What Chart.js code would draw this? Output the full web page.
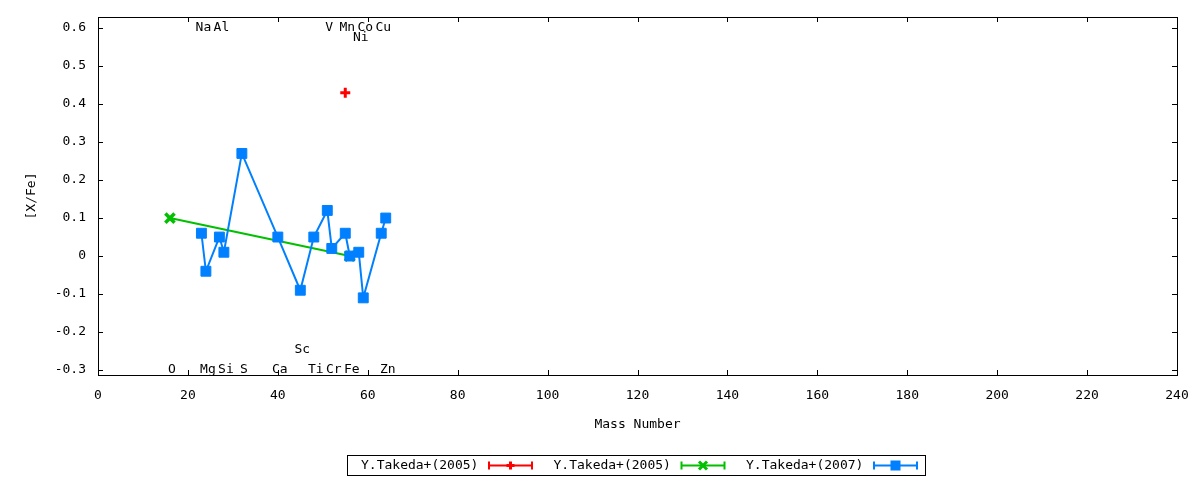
<!DOCTYPE html>
<html>
<head>
<meta charset="utf-8">
<script src="https://cdn.jsdelivr.net/npm/chart.js@4.4.1/dist/chart.umd.min.js"></script>
<style>
  html, body { margin: 0; padding: 0; background: #fff; }
  #wrap { width: 1200px; height: 480px; }
</style>
</head>
<body>
<div id="wrap"><canvas id="grafico"></canvas></div>
<script>
// --- Datos ---
const massRed = [55];
const xfeRed = [0.43];

const massGreen = [16, 56];
const xfeGreen = [0.10, 0.00];

const massBlue = [23, 24, 27, 28, 32, 40, 45, 48, 51, 52, 55, 56, 58, 59, 63, 64];
const xfeBlue = [0.06, -0.04, 0.05, 0.01, 0.27, 0.05, -0.09, 0.05, 0.12, 0.02, 0.06, 0.00, 0.01, -0.11, 0.06, 0.10];

const seriesNames = ['Y.Takeda+(2005)', 'Y.Takeda+(2005)', 'Y.Takeda+(2007)'];
const seriesColors = ['#ff0000', '#00c000', '#0080ff'];

const xTicks = [0, 20, 40, 60, 80, 100, 120, 140, 160, 180, 200, 220, 240];
const yTicks = [-0.3, -0.2, -0.1, 0, 0.1, 0.2, 0.3, 0.4, 0.5, 0.6];
const yTickLabels = ['-0.3', '-0.2', '-0.1', '0', '0.1', '0.2', '0.3', '0.4', '0.5', '0.6'];

// Etiquetas de elementos (nombre, número másico, posición [X/Fe])
const elemNames = ['Na', 'Al', 'V', 'Mn', 'Co', 'Cu', 'Ni', 'O', 'Mg', 'Si', 'S', 'Ca', 'Sc', 'Ti', 'Cr', 'Fe', 'Zn'];
const elemMass = [23, 27, 51, 55, 59, 63, 58, 16, 24, 28, 32, 40, 45, 48, 52, 56, 64];
const elemY = [0.6, 0.6, 0.6, 0.6, 0.6, 0.6, 0.575, -0.3, -0.3, -0.3, -0.3, -0.3, -0.245, -0.3, -0.3, -0.3, -0.3];

const FONT = '"DejaVu Sans Mono", monospace';
const toPoints = (xs, ys) => xs.map((x, i) => ({ x: x, y: ys[i] }));

// quita el margen extra que Chart.js reserva para las etiquetas
function sinRelleno(scale) {
    scale.paddingTop = 0;
    scale.paddingBottom = 0;
    scale.paddingLeft = 0;
    scale.paddingRight = 0;
}

// Caja, marcas de ejes, etiquetas, títulos y leyenda estilo gnuplot
const decoraciones = {
    id: 'decoraciones',
    afterDatasetsDraw(chart) {
        const ctx = chart.ctx;
        const a = chart.chartArea;
        const xs = chart.scales.x;
        const ys = chart.scales.y;
        ctx.save();

        // marcas hacia adentro
        ctx.strokeStyle = '#000';
        ctx.lineWidth = 1;
        ctx.beginPath();
        xTicks.forEach(v => {
            const px = Math.round(xs.getPixelForValue(v)) + 0.5;
            ctx.moveTo(px, a.bottom); ctx.lineTo(px, a.bottom - 5);
            ctx.moveTo(px, a.top); ctx.lineTo(px, a.top + 5);
        });
        yTicks.forEach(v => {
            const py = Math.round(ys.getPixelForValue(v)) + 0.5;
            ctx.moveTo(a.left, py); ctx.lineTo(a.left + 5, py);
            ctx.moveTo(a.right, py); ctx.lineTo(a.right - 5, py);
        });
        ctx.stroke();

        // caja del gráfico
        ctx.strokeRect(Math.round(a.left) + 0.5, Math.round(a.top) + 0.5,
            Math.round(a.right - a.left), Math.round(a.bottom - a.top));

        // nombres de elementos
        ctx.fillStyle = '#000';
        ctx.font = '13px ' + FONT;
        ctx.textAlign = 'center';
        ctx.textBaseline = 'middle';
        elemNames.forEach((n, i) => {
            ctx.fillText(n, xs.getPixelForValue(elemMass[i]) + 2, ys.getPixelForValue(elemY[i]));
        });

        // títulos de ejes
        ctx.fillText('Mass Number', (a.left + a.right) / 2, 425);
        ctx.save();
        ctx.translate(32, (a.top + a.bottom) / 2);
        ctx.rotate(-Math.PI / 2);
        ctx.fillText('[X/Fe]', 0, 0);
        ctx.restore();

        // leyenda
        const boxL = 347, boxT = 455, boxW = 578, boxH = 20;
        ctx.strokeRect(boxL + 0.5, boxT + 0.5, boxW, boxH);
        const ly = boxT + boxH / 2 + 0.5;
        ctx.textAlign = 'left';
        seriesNames.forEach((name, i) => {
            const x0 = boxL + 14 + i * 192.5;
            ctx.fillStyle = '#000';
            ctx.fillText(name, x0, ly);
            const s0 = x0 + 128, s1 = s0 + 43, sm = (s0 + s1) / 2;
            const col = seriesColors[i];
            ctx.strokeStyle = col;
            ctx.fillStyle = col;
            ctx.lineWidth = 2;
            ctx.beginPath();
            ctx.moveTo(s0, ly); ctx.lineTo(s1, ly);
            ctx.moveTo(s0, ly - 4); ctx.lineTo(s0, ly + 4);
            ctx.moveTo(s1, ly - 4); ctx.lineTo(s1, ly + 4);
            ctx.stroke();
            ctx.lineWidth = 3;
            ctx.beginPath();
            if (i === 0) {
                ctx.moveTo(sm - 4, ly); ctx.lineTo(sm + 4, ly);
                ctx.moveTo(sm, ly - 4); ctx.lineTo(sm, ly + 4);
                ctx.stroke();
            } else if (i === 1) {
                ctx.moveTo(sm - 4, ly - 4); ctx.lineTo(sm + 4, ly + 4);
                ctx.moveTo(sm + 4, ly - 4); ctx.lineTo(sm - 4, ly + 4);
                ctx.stroke();
            } else {
                ctx.fillRect(sm - 5, ly - 5, 10, 10);
            }
        });
        ctx.restore();
    }
};

new Chart(document.getElementById('grafico'), {
    type: 'scatter',
    data: {
        datasets: [
            {
                label: seriesNames[0],
                data: toPoints(massRed, xfeRed),
                showLine: true,
                borderColor: seriesColors[0],
                backgroundColor: seriesColors[0],
                borderWidth: 2,
                pointStyle: 'cross',
                pointRadius: 5,
                pointBorderWidth: 3,
                order: 2
            },
            {
                label: seriesNames[1],
                data: toPoints(massGreen, xfeGreen),
                showLine: true,
                borderColor: seriesColors[1],
                backgroundColor: seriesColors[1],
                borderWidth: 2,
                pointStyle: 'crossRot',
                pointRadius: 6.5,
                pointBorderWidth: 3.5,
                order: 1
            },
            {
                label: seriesNames[2],
                data: toPoints(massBlue, xfeBlue),
                showLine: true,
                borderColor: seriesColors[2],
                backgroundColor: seriesColors[2],
                borderWidth: 2,
                pointStyle: 'rect',
                pointRadius: 7,
                pointBorderWidth: 1,
                order: 0
            }
        ]
    },
    options: {
        responsive: true,
        maintainAspectRatio: false,
        animation: false,
        layout: { padding: { left: 0, top: 17, right: 23, bottom: 0 } },
        plugins: {
            legend: { display: false },
            tooltip: { enabled: false }
        },
        scales: {
            x: {
                type: 'linear',
                min: 0,
                max: 240,
                grid: { display: false, drawTicks: false },
                border: { display: false },
                afterBuildTicks: (scale) => { scale.ticks = xTicks.map(v => ({ value: v })); },
                afterFit: (scale) => { scale.height = 105; sinRelleno(scale); },
                ticks: {
                    color: '#000',
                    font: { family: FONT, size: 13 },
                    padding: 13,
                    maxRotation: 0,
                    callback: (v) => String(v)
                }
            },
            y: {
                type: 'linear',
                min: -0.313,
                max: 0.629,
                grid: { display: false, drawTicks: false },
                border: { display: false },
                afterBuildTicks: (scale) => { scale.ticks = yTicks.map(v => ({ value: v })); },
                afterFit: (scale) => { scale.width = 98; sinRelleno(scale); },
                ticks: {
                    color: '#000',
                    font: { family: FONT, size: 13 },
                    padding: 12,
                    callback: (v, i) => yTickLabels[i]
                }
            }
        }
    },
    plugins: [decoraciones]
});
</script>
</body>
</html>
